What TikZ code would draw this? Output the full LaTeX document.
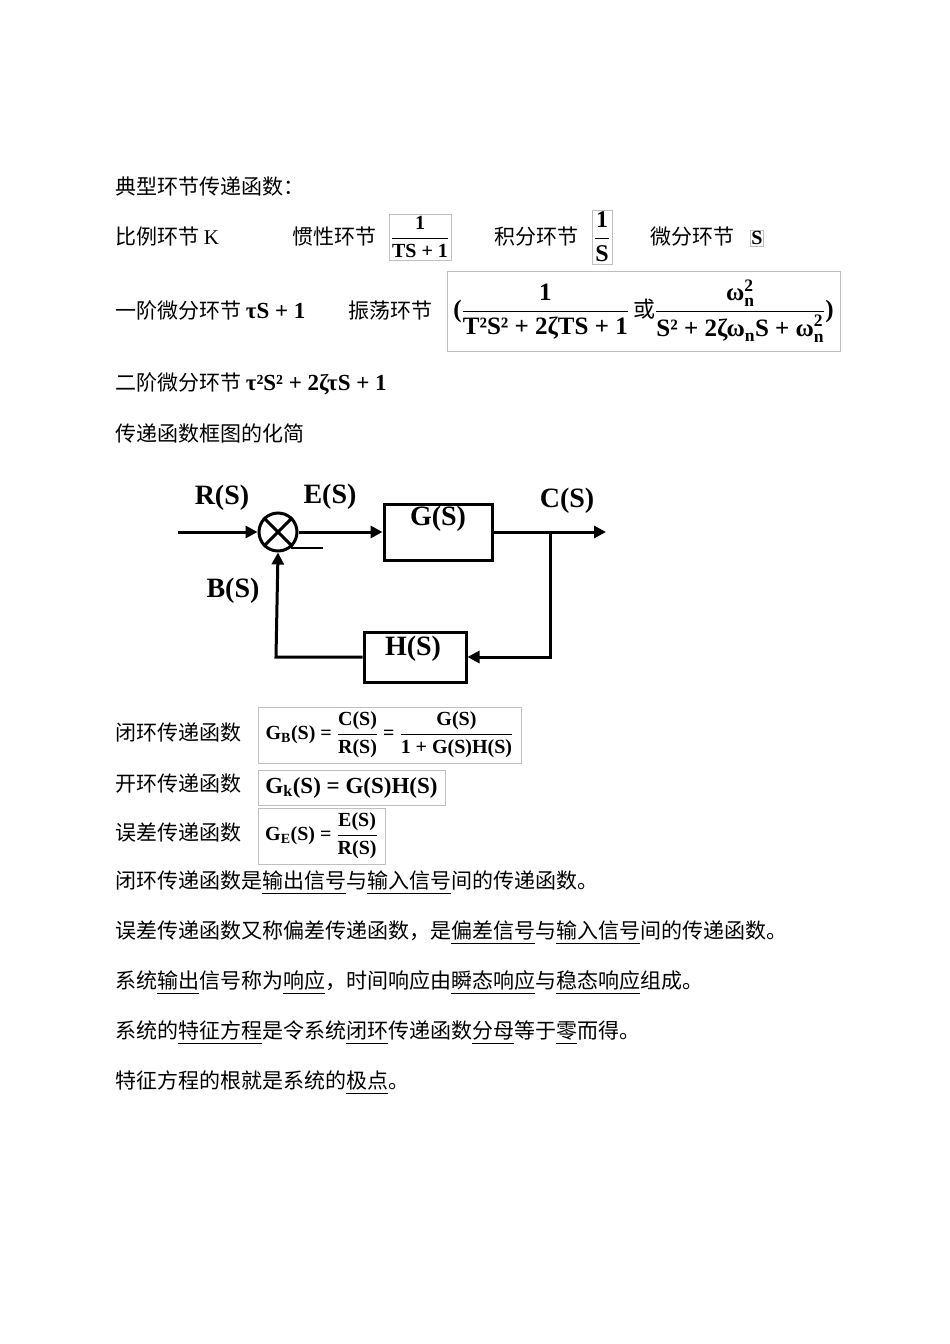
\documentclass[tikz,border=0pt]{standalone}
\usepackage{fontspec}
\usepackage{amsmath}
\setmainfont{Liberation Serif}
\newfontfamily\cjk{Noto Sans CJK SC}
\usetikzlibrary{arrows.meta}
\newcommand{\ul}[1]{\underline{#1}}
\newcommand{\B}[1]{\text{\bfseries #1}}
\begin{document}
\begin{tikzpicture}[x=1pt,y=-1pt,
  txt/.style={anchor=west,inner sep=0pt,font=\cjk\fontsize{21}{24}\selectfont},
  fbox/.style={draw=black!25,inner sep=2pt,font=\fontsize{20}{23}\selectfont},
  lbl/.style={font=\bfseries\fontsize{28}{31}\selectfont,inner sep=0pt},
  blk/.style={draw,line width=3pt,minimum width=108pt,minimum height=56pt,inner sep=0pt},
  wire/.style={line width=3pt},
  arr/.style={line width=3pt,-{Triangle[length=12pt,width=12pt]}}]
\useasboundingbox (0,0) rectangle (950,1344);
\node[txt] (t1) at (115,187) {典型环节传递函数：};
\node[txt] (a1) at (115,237) {比例环节 {\rmfamily K}};
\node[txt] (a2) at (292,237) {惯性环节};
\node[fbox] (f1) at (420,237) {$\dfrac{\B{1}}{\B{TS + 1}}$};
\node[txt] (a3) at (494,237) {积分环节};
\node[fbox,font=\fontsize{24}{26}\selectfont] (f2) at (602,237) {$\dfrac{\B{1}}{\B{S}}$};
\node[txt] (a4) at (650,237) {微分环节};
\node[fbox,inner sep=1pt] (f3) at (757,238) {\B{S}};
\node[txt] (b1) at (115,311) {一阶微分环节 {\rmfamily\bfseries\fontsize{23}{26}\selectfont τS + 1}};
\node[txt] (b2) at (348,311) {振荡环节};
\node[fbox,minimum width=393pt,minimum height=80pt,inner sep=0pt,font=\fontsize{25}{28}\selectfont] (f4) at (643.5,311) {\B{(}$\dfrac{\B{1}}{\B{T²S² + 2ζTS + 1}}$\,{\cjk\fontsize{22}{24}\selectfont 或}$\dfrac{\B{ω}^{\B{2}}_{\B{n}}}{\B{S² + 2ζω}_{\B{n}}\B{S + ω}^{\B{2}}_{\B{n}}}$\B{)}};
\node[txt] (c1) at (115,384) {二阶微分环节 {\rmfamily\bfseries\fontsize{23}{26}\selectfont τ²S² + 2ζτS + 1}};
\node[txt] (d1) at (115,434) {传递函数框图的化简};
% block diagram
\node[draw,circle,line width=3pt,minimum size=38pt,inner sep=0pt] (sum) at (278,532) {};
\draw[line width=3pt] (sum.45) -- (sum.225) (sum.135) -- (sum.315);
\coordinate (in) at (178,532);
\node[blk] (G) at (438,532) {};
\node[lbl] at (438,519) {G(S)};
\coordinate (out) at (606,532);
\coordinate (br) at (550,532);
\coordinate (brd) at (550,657);
\node[blk,minimum width=102pt,minimum height=50pt] (H) at (415,657) {};
\node[lbl] at (413,649) {H(S)};
\coordinate (fl) at (276,657);
\draw[arr] (in) -- (sum.west);
\draw[arr] (sum.east) -- (G.west);
\draw[arr] (G.east) -- (out);
\draw[arr] (br) -- (brd) -- (H.east);
\draw[arr] (H.west) -- (fl) -- (sum.south);
\draw[line width=1.5pt] (291,548) -- (323,548);
\node[lbl] (R) at (222,498) {R(S)};
\node[lbl] (E) at (330,497) {E(S)};
\node[lbl] (C) at (567,501) {C(S)};
\node[lbl] (Bs) at (233,591) {B(S)};
% transfer functions
\node[txt] (e1) at (115,733) {闭环传递函数};
\node[fbox,minimum width=263pt,minimum height=56pt,inner sep=0pt] (g1) at (389.5,735) {\B{G}$_{\B{B}}$\B{(S) = }$\dfrac{\B{C(S)}}{\B{R(S)}}$\B{ = }$\dfrac{\B{G(S)}}{\B{1 + G(S)H(S)}}$};
\node[txt] (e2) at (115,784) {开环传递函数};
\node[fbox,minimum width=187pt,minimum height=35pt,inner sep=0pt,font=\fontsize{23}{26}\selectfont] (g2) at (351.5,787.5) {\B{G}$_{\B{k}}$\B{(S) = G(S)H(S)}};
\node[txt] (e3) at (115,833) {误差传递函数};
\node[fbox,minimum width=127pt,minimum height=56pt,inner sep=0pt] (g3) at (321.5,836) {\B{G}$_{\B{E}}$\B{(S) = }$\dfrac{\B{E(S)}}{\B{R(S)}}$};
\node[txt] (s1) at (115,883) {闭环传递函数是\ul{输出信号}与\ul{输入信号}间的传递函数。};
\node[txt] (s2) at (115,933) {误差传递函数又称偏差传递函数，是\ul{偏差信号}与\ul{输入信号}间的传递函数。};
\node[txt] (s3) at (115,983) {系统\ul{输出}信号称为\ul{响应}，时间响应由\ul{瞬态响应}与\ul{稳态响应}组成。};
\node[txt] (s4) at (115,1033) {系统的\ul{特征方程}是令系统\ul{闭环}传递函数\ul{分母}等于\ul{零}而得。};
\node[txt] (s5) at (115,1083) {特征方程的根就是系统的\ul{极点}。};
\end{tikzpicture}
\end{document}
